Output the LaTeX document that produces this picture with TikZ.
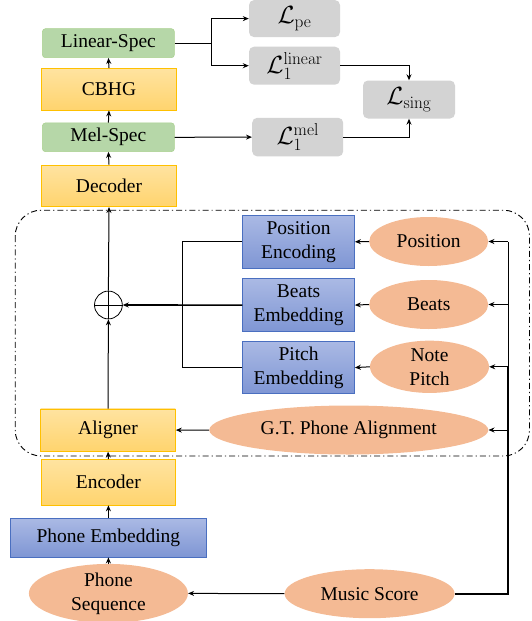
\documentclass[tikz,border=0pt]{standalone}
\usepackage[no-math]{fontspec}
\setmainfont{Liberation Serif}
\usetikzlibrary{shapes.geometric,arrows.meta}
\definecolor{orbord}{HTML}{FFC000}
\definecolor{ortop}{HTML}{FFE3A0}
\definecolor{orbot}{HTML}{FFD46E}
\definecolor{grfill}{HTML}{B6D7A8}
\definecolor{grbord}{HTML}{A9D18E}
\definecolor{bltop}{HTML}{AAB9E4}
\definecolor{blbot}{HTML}{7F96D4}
\definecolor{blbord}{HTML}{4A6FC0}
\definecolor{elfill}{HTML}{F4BA94}
\definecolor{gyfill}{HTML}{D3D3D3}
\tikzset{
  txt/.style={font=\fontsize{19.5}{24}\selectfont, align=center, inner sep=0pt},
  mtxt/.style={font=\fontsize{24}{28}\selectfont, inner sep=0pt},
  orbox/.style={txt, rectangle, draw=orbord, line width=0.8pt, top color=ortop, bottom color=orbot},
  grbox/.style={txt, rectangle, rounded corners=3pt, draw=grbord, line width=0.5pt, fill=grfill},
  blbox/.style={txt, rectangle, draw=blbord, line width=0.8pt, top color=bltop, bottom color=blbot},
  elnode/.style={txt, ellipse, fill=elfill},
  gybox/.style={mtxt, rectangle, rounded corners=5pt, fill=gyfill},
  arr/.style={line width=1pt, -{Stealth[length=6pt,width=5pt]}},
  ln/.style={line width=1pt},
}
\begin{document}
\begin{tikzpicture}[x=1pt,y=-1pt]
\useasboundingbox (0,0) rectangle (531,621);
% dash-dot box
\draw[line width=0.9pt, dash pattern=on 6pt off 3pt on 1.2pt off 3pt, rounded corners=26pt] (15.2,210.2) rectangle (529.5,456);
% left column
\node[grbox, minimum width=132, minimum height=29] (ls) at (108.4,43.2) {Linear-Spec};
\node[orbox, minimum width=135.5, minimum height=41.6] (cb) at (109,89.2) {CBHG};
\node[grbox, minimum width=132, minimum height=28.7] (mel) at (108.4,137.3) {Mel-Spec};
\node[orbox, minimum width=135.5, minimum height=41.6] (dec) at (109,185.8) {Decoder};
% losses
\node[gybox, minimum width=91, minimum height=37] (lpe) at (294.5,18.6) {$\mathcal{L}_{\mathrm{pe}}$};
\node[gybox, minimum width=91, minimum height=38] (llin) at (294.5,65.7) {$\mathcal{L}_1^{\mathrm{linear}}$};
\node[gybox, minimum width=92, minimum height=38] (lsing) at (409,99.5) {$\mathcal{L}_{\mathrm{sing}}$};
\node[gybox, minimum width=91, minimum height=38.6] (lmel) at (297.7,137.1) {$\mathcal{L}_1^{\mathrm{mel}}$};
% embeddings
\node[blbox, minimum width=111.7, minimum height=53] (pe) at (298.6,241.8) {Position\\Encoding};
\node[blbox, minimum width=111.7, minimum height=52.5] (be) at (298.6,305.1) {Beats\\Embedding};
\node[blbox, minimum width=111.7, minimum height=52] (pt) at (298.6,367.6) {Pitch\\Embedding};
% ellipses
\node[elnode, minimum width=119, minimum height=49] (pos) at (428.7,241.5) {Position};
\node[elnode, minimum width=119, minimum height=49] (bea) at (428.7,304.5) {Beats};
\node[elnode, minimum width=119, minimum height=49] (np) at (429.5,366.8) {Note\\Pitch};
\node[elnode, minimum width=279, minimum height=49] (gt) at (348.8,430) {G.T. Phone Alignment};
\node[orbox, minimum width=134.8, minimum height=42.3] (al) at (108,430.1) {Aligner};
\node[circle, draw, line width=0.8pt, minimum size=27.8, inner sep=0pt] (op) at (108.4,305) {};
\draw[line width=0.8pt] (op.north) -- (op.south) (op.west) -- (op.east);
\node[orbox, minimum width=134, minimum height=45.4] (enc) at (108.4,482.2) {Encoder};
\node[blbox, minimum width=196.4, minimum height=38.6] (phe) at (108.4,537.7) {Phone Embedding};
\node[elnode, minimum width=159, minimum height=48] (ps) at (108.4,593.4) {Phone\\Sequence};
\node[elnode, minimum width=170, minimum height=49] (ms) at (369.6,593.7) {Music Score};
% coordinates
\coordinate (br) at (211.6,43.2);
\coordinate (lb) at (182.9,305);
\coordinate (rb) at (508,593.7);
% connectors top
\draw[ln] (ls.east) -- (br);
\draw[arr] (br) |- (lpe.west);
\draw[arr] (br) |- (llin.west);
\draw[arr] (llin.east) -| (lsing.north);
\draw[arr] (lmel.east) -| (lsing.south);
\draw[arr] (mel.east) -- (lmel.west);
\draw[arr] (cb.north) -- (ls.south);
\draw[arr] (mel.north) -- (cb.south);
\draw[arr] (dec.north) -- (mel.south);
\draw[arr] (op.north) -- (dec.south);
\draw[arr] (al.north) -- (op.south);
\draw[arr] (enc.north) -- (al.south);
\draw[arr] (phe.north) -- (enc.south);
\draw[arr] (ps.north) -- (phe.south);
% left bus
\draw[ln] (pe.west) -| (lb) |- (pt.west);
\draw[arr, line width=1.6pt] (be.west) -- (op.east);
% ellipses to embeddings
\draw[arr] (pos.west) -- (pe.east);
\draw[arr] (bea.west) -- (be.east);
\draw[arr] (np.west) -- (pt.east);
\draw[arr] (gt.west) -- (al.east);
\draw[arr] (ms.west) -- (ps.east);
% right bus
\draw[ln] (rb) -- (rb |- pos.east);
\draw[line width=2.2pt] (ms.east) -- (rb) -- (rb |- np.east);
\draw[arr] (rb |- pos.east) -- (pos.east);
\draw[arr] (rb |- bea.east) -- (bea.east);
\draw[arr] (rb |- np.east) -- (np.east);
\draw[arr] (rb |- gt.east) -- (gt.east);
\end{tikzpicture}
\end{document}
